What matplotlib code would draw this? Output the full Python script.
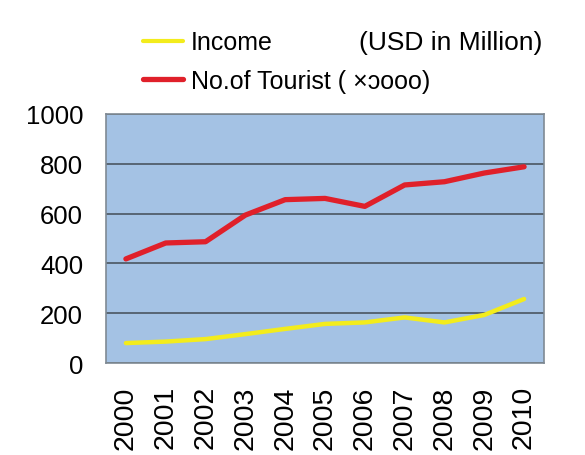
import numpy as np
import matplotlib.pyplot as plt
from matplotlib.lines import Line2D

plt.rcParams['font.family'] = ['Liberation Sans', 'DejaVu Sans']

# Data
years = ['2000', '2001', '2002', '2003', '2004', '2005',
         '2006', '2007', '2008', '2009', '2010']
income = [80, 86, 96, 116, 137, 157, 163, 183, 163, 193, 257]
tourists = [418, 482, 487, 594, 656, 661, 629, 715, 728, 763, 788]
yticks = [0, 200, 400, 600, 800, 1000]

W, H = 585, 456
fig = plt.figure(figsize=(W / 100, H / 100), dpi=100)
ax = fig.add_axes([106 / W, 1 - 364 / H, 438 / W, 249 / H])

yellow = '#f3ec1c'
red = '#e0202a'
x = np.arange(len(years))
ax.plot(x, income, color=yellow, lw=3.2, solid_capstyle='round')
ax.plot(x, tourists, color=red, lw=3.8, solid_capstyle='round')

ax.set_facecolor('#a4c2e4')
ax.set_xlim(-0.5, len(years) - 0.5)
ax.set_ylim(0, 1000)
ax.set_yticks(yticks)
ax.set_xticks(x)
ax.set_xticklabels(years, rotation=90)
ax.tick_params(axis='both', length=0, colors='black')
ax.tick_params(axis='y', pad=16.5, labelsize=18.5)
ax.tick_params(axis='x', pad=16, labelsize=20.5)
ax.yaxis.grid(True, color='#4a5560', lw=1.2)
ax.set_axisbelow(True)
for s in ax.spines.values():
    s.set_color('#7f8a94')
    s.set_linewidth(1.2)

# legend drawn by hand so the rows sit where they do in the reference
fig.add_artist(Line2D([143 / W, 183 / W], [1 - 42 / H, 1 - 42 / H],
                      color=yellow, lw=3, solid_capstyle='round'))
fig.add_artist(Line2D([143 / W, 183 / W], [1 - 80 / H, 1 - 80 / H],
                      color=red, lw=3.8, solid_capstyle='round'))
fig.text(191 / W, 1 - 43 / H, 'Income', fontsize=18, va='center')
fig.text(191 / W, 1 - 82 / H, 'No.of Tourist ( \u00d7\u0254ooo)',
         fontsize=18, va='center')
fig.text(359 / W, 1 - 43 / H, '(USD in Million)', fontsize=19,
         va='center', ha='left')

fig.savefig('out.png', dpi=100)
